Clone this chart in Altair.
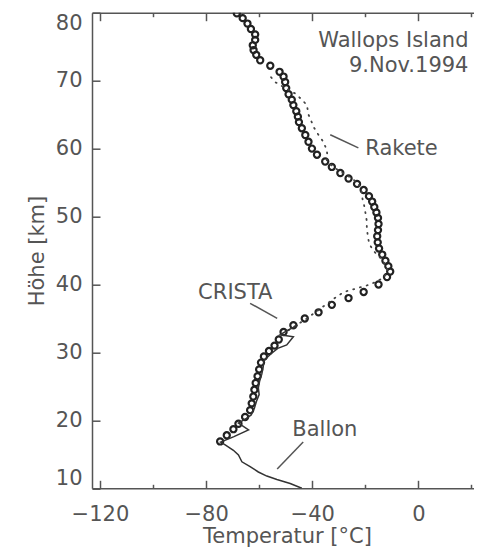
import altair as alt
import pandas as pd

# CRISTA (circles)
crista_z = [16.9, 17.8, 18.7, 19.5, 20.5, 21.5, 22.5, 23.5, 24.5, 25.5, 26.5, 27.5, 28.5,
            29.4, 30.2, 31.0, 31.9, 33.0, 34.0, 35.0, 35.9, 37.0, 38.0, 38.9, 40.0, 41.1,
            41.9, 42.7, 43.5, 44.4, 45.3, 46.2, 47.1, 48.0, 48.9, 49.8, 50.6, 51.4, 52.2,
            53.0, 53.9, 54.8, 55.6, 56.4, 57.3, 58.1, 59.1, 60.0, 61.0, 62.0, 63.0, 63.9,
            64.7, 65.5, 66.4, 67.2, 68.0, 68.9, 69.8, 70.6, 71.3, 72.2, 73.0, 73.8, 74.5,
            75.2, 76.0, 76.8, 77.6, 78.4, 79.2, 79.9]
crista_t = [-74.7, -72.2, -69.7, -67.8, -65.3, -63.4, -62.8, -62.2, -61.8, -61.3, -60.6, -60.0, -59.3,
            -58.2, -56.3, -54.2, -52.6, -50.8, -47.1, -42.8, -37.6, -32.6, -26.3, -20.6, -15.0, -11.8,
            -10.6, -11.3, -12.4, -13.6, -14.8, -15.3, -15.5, -15.2, -15.0, -15.2, -15.8, -16.6, -17.4,
            -18.6, -20.6, -23.1, -26.3, -29.4, -32.6, -35.1, -38.2, -40.1, -41.4, -42.6, -43.9, -45.0,
            -45.4, -46.0, -47.1, -47.7, -48.9, -49.8, -50.2, -50.8, -52.3, -55.8, -59.6, -61.1, -62.1,
            -62.4, -61.5, -61.5, -63.1, -64.4, -66.2, -68.4]

# Rakete (dotted)
rakete_z = [70.5, 69.8, 69.0, 68.1, 67.2, 66.4, 65.0, 64.0, 63.2, 62.0, 61.0, 59.8, 59.0, 58.2,
            57.3, 56.4, 55.6, 54.8, 53.9, 52.5, 52.0, 50.7, 49.5, 48.3, 47.0, 46.0, 45.0, 44.0,
            43.0, 42.0, 41.0, 40.0, 39.4, 38.9, 38.0, 37.0, 36.0, 35.0, 34.0, 33.0]
rakete_t = [-55.5, -54.0, -50.5, -46.4, -43.9, -42.0, -41.4, -40.3, -39.5, -37.6, -35.8, -34.5, -34.3, -34.5,
            -32.0, -28.5, -25.0, -22.5, -21.5, -21.0, -20.6, -20.0, -19.5, -19.4, -19.0, -18.5, -17.0, -14.5,
            -12.5, -11.5, -13.0, -18.1, -23.5, -28.0, -31.5, -35.0, -38.5, -42.0, -46.0, -50.0]

# Ballon (solid line)
ballon_z = [10.0, 10.7, 11.3, 11.8, 12.4, 13.2, 13.9, 14.9, 15.6, 16.4, 16.8, 17.6, 18.6, 19.6,
            20.3, 20.8, 21.8, 22.8, 23.8, 24.8, 25.8, 26.8, 27.8, 28.8, 29.8, 30.6, 31.1, 32.3,
            32.6, 33.2, 34.0]
ballon_t = [-43.9, -48.3, -53.3, -57.1, -60.3, -63.4, -66.5, -67.8, -69.7, -72.8, -74.5, -69.5, -64.0, -67.8,
            -64.8, -63.0, -61.8, -61.0, -60.0, -60.3, -59.8, -59.0, -58.5, -58.2, -55.5, -53.0, -49.6, -47.1,
            -52.1, -49.5, -45.5]

x_major = [-120, -80, -40, 0]
x_minor = [-100, -60, -20, 20]
y_major = [10, 20, 30, 40, 50, 60, 70, 80]

# annotations (data coordinates)
lab_text = ["Rakete", "CRISTA", "Ballon"]
lab_t = [-20.0, -83.0, -47.5]
lab_z = [59.06, 37.82, 17.7]
lead_t = [-33.2, -63.4, -43.4]
lead_z = [62.03, 37.23, 16.8]
lead_t2 = [-22.6, -53.2, -53.2]
lead_z2 = [60.1, 35.02, 12.84]
info_text = ["Wallops Island", "9.Nov.1994"]
info_t = [18.9, 18.9]
info_z = [74.95, 71.3]

crista = pd.DataFrame({"T": crista_t, "z": crista_z})
rakete = pd.DataFrame({"T": rakete_t, "z": rakete_z, "i": list(range(len(rakete_z)))})
ballon = pd.DataFrame({"T": ballon_t, "z": ballon_z, "i": list(range(len(ballon_z)))})
labels = pd.DataFrame({"T": lab_t, "z": lab_z, "text": lab_text})
leaders = pd.DataFrame({"T": lead_t, "z": lead_z, "T2": lead_t2, "z2": lead_z2})
info = pd.DataFrame({"T": info_t, "z": info_z, "text": info_text})

FONT = "DejaVu Sans"
GREY = "#555555"
xs = alt.Scale(domain=[-123, 24], nice=False, zero=False)
ys = alt.Scale(domain=[10, 80], nice=False, zero=False)


def inward(orient, values, size):
    return alt.Axis(orient=orient, values=values, labels=False, ticks=True, tickSize=size,
                    offset=-size, domain=False, grid=False, tickColor=GREY, tickWidth=1.5)


ax_x_lab = alt.Axis(orient="bottom", values=x_major, ticks=False, domain=True,
                    domainColor=GREY, domainWidth=1.5, grid=False,
                    labelPadding=15, labelFont=FONT, labelFontSize=21, labelColor=GREY,
                    format="d", titleFont=FONT, titleFontSize=21, titleColor=GREY,
                    titleFontWeight="normal", titlePadding=1)
ax_y_lab = alt.Axis(orient="left", values=y_major, ticks=False, domain=True,
                    domainColor=GREY, domainWidth=1.5, grid=False,
                    labelPadding=10, labelFont=FONT, labelFontSize=21, labelColor=GREY,
                    labelFlush=True, format="d", titleFont=FONT, titleFontSize=21,
                    titleColor=GREY, titleFontWeight="normal", titlePadding=8)
ax_x_top_frame = alt.Axis(orient="top", values=x_major, ticks=False, labels=False, domain=True,
                          domainColor=GREY, domainWidth=1.5, grid=False)

circles = alt.Chart(crista).mark_point(shape="circle", filled=False, size=38, strokeWidth=2.2,
                                       color="#222222", clip=True, opacity=1).encode(
    x=alt.X("T:Q", scale=xs, axis=ax_x_lab, title="Temperatur [°C]"),
    y=alt.Y("z:Q", scale=ys, axis=ax_y_lab, title="Höhe [km]"),
)

rak = alt.Chart(rakete).mark_line(strokeDash=[1, 6], strokeCap="round", strokeWidth=1.8,
                                  color="#444444", clip=True).encode(
    x=alt.X("T:Q", scale=xs, axis=inward("bottom", x_major, 8), title=None),
    y=alt.Y("z:Q", scale=ys, axis=inward("left", y_major, 8), title=None),
    order=alt.Order("i:Q"),
)

bal = alt.Chart(ballon).mark_line(strokeWidth=1.5, color="#333333", clip=True).encode(
    x=alt.X("T:Q", scale=xs, axis=inward("bottom", x_minor, 4), title=None),
    y=alt.Y("z:Q", scale=ys, axis=inward("right", y_major, 8), title=None),
    order=alt.Order("i:Q"),
)

lab = alt.Chart(labels).mark_text(align="left", baseline="alphabetic", font=FONT, fontSize=21,
                                  color=GREY).encode(
    x=alt.X("T:Q", scale=xs, axis=inward("top", x_major, 8), title=None),
    y=alt.Y("z:Q", scale=ys, axis=None),
    text="text:N",
)

lead = alt.Chart(leaders).mark_rule(strokeWidth=1.5, color=GREY).encode(
    x=alt.X("T:Q", scale=xs, axis=inward("top", x_minor, 4), title=None),
    y=alt.Y("z:Q", scale=ys, axis=None),
    x2="T2:Q",
    y2="z2:Q",
)

inf = alt.Chart(info).mark_text(align="right", baseline="alphabetic", font=FONT, fontSize=21,
                                color=GREY).encode(
    x=alt.X("T:Q", scale=xs, axis=ax_x_top_frame, title=None),
    y=alt.Y("z:Q", scale=ys, axis=None),
    text="text:N",
)

chart = alt.layer(circles, rak, bal, lab, lead, inf).resolve_axis(
    x="independent", y="independent"
).properties(
    width=390, height=475.6,
    padding={"left": 84, "top": 4.7, "right": -8, "bottom": 60.7},
    autosize=alt.AutoSizeParams(type="none"),
    background="white",
).configure_view(stroke="transparent", strokeWidth=0)

chart.save("out.html", embed_options={"renderer": "svg", "actions": False})
